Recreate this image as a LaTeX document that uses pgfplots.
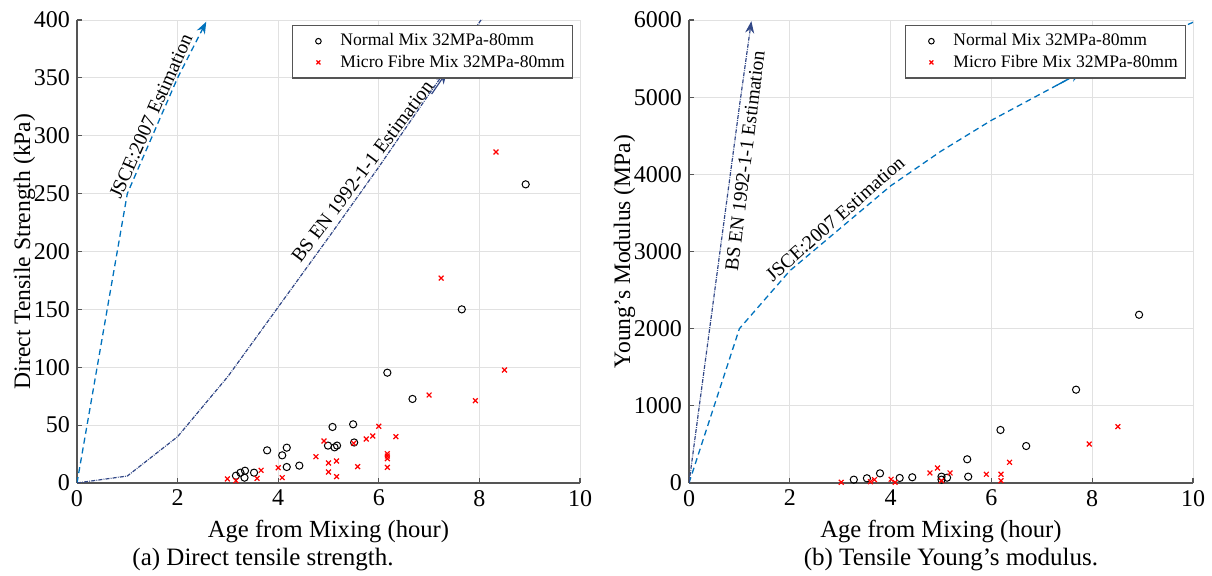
\documentclass[border=0pt]{standalone}
\usepackage{fontspec}
\setmainfont{Liberation Serif}
\usepackage{pgfplots}
\pgfplotsset{compat=1.18}
\usetikzlibrary{arrows.meta}
\definecolor{jsce}{RGB}{0,114,189}
\definecolor{bsen}{RGB}{50,72,135}
\definecolor{gridc}{RGB}{225,225,225}
\definecolor{axc}{RGB}{85,85,85}
\tikzset{ann/.style={font=\fontsize{9.8}{11}\selectfont, inner sep=0pt}}
\pgfplotsset{
 myax/.style={
  scale only axis, width=251.5pt, height=231.5pt,
  xmin=0, xmax=10, xtick={0,2,...,10},
  axis x line=bottom, axis y line=left,
  axis line style={-, axc, line width=0.65pt},
  tick style={axc, line width=0.6pt}, major tick length=2.5pt,
  tick align=inside,
  grid=major, major grid style={gridc, line width=0.45pt},
  tick label style={font=\fontsize{12}{14}\selectfont},
  xlabel style={font=\fontsize{12.3}{14}\selectfont},
  ylabel style={font=\fontsize{11.8}{14}\selectfont},
  ylabel shift=-7.5pt,
  /pgf/number format/assume math mode=true,
  /pgf/number format/1000 sep={},
  scaled ticks=false,
  legend style={at={(1,1)}, anchor=north east, xshift=-3.3pt, yshift=-2.5pt,
    font=\fontsize{8.8}{10}\selectfont, draw=axc, line width=0.6pt,
    inner xsep=2pt, inner ysep=2pt, row sep=-1pt},
  legend cell align=left,
  legend image code/.code={\path[draw=none] (0pt,0pt) -- (20pt,0pt); \draw[##1, mark size=1.4pt] plot coordinates {(11pt,0pt)};},
  clip=true,
 },
 nm/.style={only marks, mark=o, mark size=1.8pt, black, mark options={line width=0.5pt}},
 mf/.style={only marks, mark=x, mark size=1.7pt, red, mark options={line width=0.6pt}},
 jl/.style={jsce, line width=0.65pt, dash pattern=on 3pt off 2pt},
 bl/.style={bsen, line width=0.6pt, dash pattern=on 2pt off 0.6pt on 0.4pt off 0.6pt},
}
\begin{document}
\begin{tikzpicture}
\useasboundingbox (0,0) rectangle (606pt,288pt);
% ---------- (a) ----------
\begin{axis}[myax, at={(38.5pt,46.5pt)}, anchor=south west,
  ymin=0, ymax=400, ytick={0,50,...,400},
  xlabel={Age from Mixing (hour)}, ylabel={Direct Tensile Strength (kPa)}]
\addplot[nm] coordinates {(3.16,6.3)(3.25,8.9)(3.33,4.6)(3.34,10.6)(3.52,8.9)(3.78,28.2)(4.08,23.9)(4.17,30.5)(4.17,13.8)(4.42,15)(4.99,32.3)(5.08,48.4)(5.12,30.8)(5.17,32.3)(5.49,50.7)(5.51,35)(6.17,95.3)(6.67,72.6)(7.65,150)(8.92,258)};
\addlegendentry{Normal Mix 32MPa-80mm}
\addplot[mf] coordinates {(2.99,3.5)(3.16,2)(3.58,4)(3.66,11)(4.0,13.2)(4.08,4.6)(4.75,22.7)(4.91,36.3)(5.0,17.3)(5.0,9.5)(5.16,19)(5.16,5.5)(5.50,34.3)(5.58,14.1)(5.75,38)(5.88,40.6)(6.0,49)(6.17,25.3)(6.17,23.3)(6.17,21)(6.17,13.5)(6.34,40)(7.0,76)(7.24,177)(7.92,71.1)(8.33,286)(8.50,97.6)};
\addlegendentry{Micro Fibre Mix 32MPa-80mm}
\addplot[jl, -{Stealth[length=6pt,width=4.5pt]}, forget plot] coordinates {(0,0)(1,250)(2,350)(2.57,398.5)};
\addplot[bl, forget plot] coordinates {(0,0)(1,6)(2,40)(3,92)(4,152)(5,212)(6,273)(7,336)(8,398)(8.05,401)};
\addplot[bsen, line width=0.6pt, -{Stealth[length=6pt,width=4.5pt]}, forget plot] coordinates {(7.05,336)(7.35,355)};
\node[ann, rotate=66] at (axis cs:1.47,317) {JSCE:2007 Estimation};
\node[ann, rotate=53] at (axis cs:5.67,269) {BS EN 1992-1-1 Estimation};
\end{axis}
% ---------- (b) ----------
\begin{axis}[myax, at={(344.5pt,46.5pt)}, anchor=south west, width=252pt,
  ymin=0, ymax=6000, ytick={0,1000,...,6000},
  xlabel={Age from Mixing (hour)}, ylabel={Young’s Modulus (MPa)}]
\addplot[nm] coordinates {(3.27,43)(3.53,61)(3.79,125)(4.18,65)(4.43,74)(5.01,82)(5.01,43)(5.12,69)(5.52,307)(5.54,82)(6.18,687)(6.69,479)(7.68,1209)(8.93,2180)};
\addlegendentry{Normal Mix 32MPa-80mm}
\addplot[mf] coordinates {(3.02,9)(3.6,17)(3.68,43)(4.01,48)(4.09,9)(4.78,130)(4.93,194)(5.01,30)(5.18,130)(5.90,113)(6.19,113)(6.19,30)(6.36,268)(7.94,505)(8.51,730)};
\addlegendentry{Micro Fibre Mix 32MPa-80mm}
\addplot[jl, forget plot] coordinates {(0,0)(1,2000)(2,2750)(3,3300)(4,3850)(5,4300)(6,4700)(7,5050)(8,5400)(9,5690)(10,5970)};
\addplot[jsce, line width=0.65pt, -{Stealth[length=6pt,width=4.5pt]}, forget plot] coordinates {(7.3,5155)(7.79,5326)};
\addplot[bl, -{Stealth[length=6pt,width=4.5pt]}, forget plot] coordinates {(0,0)(1,4880)(1.237,5985)};
\node[ann, rotate=83] at (axis cs:1.11,4173) {BS EN 1992-1-1 Estimation};
\node[ann, rotate=41.6] at (axis cs:2.9,3421) {JSCE:2007 Estimation};
\end{axis}
\node[font=\fontsize{12.5}{14}\selectfont] at (131.5pt,8pt) {(a) Direct tensile strength.};
\node[font=\fontsize{12.5}{14}\selectfont] at (475.5pt,8pt) {(b) Tensile Young’s modulus.};
\end{tikzpicture}
\end{document}
